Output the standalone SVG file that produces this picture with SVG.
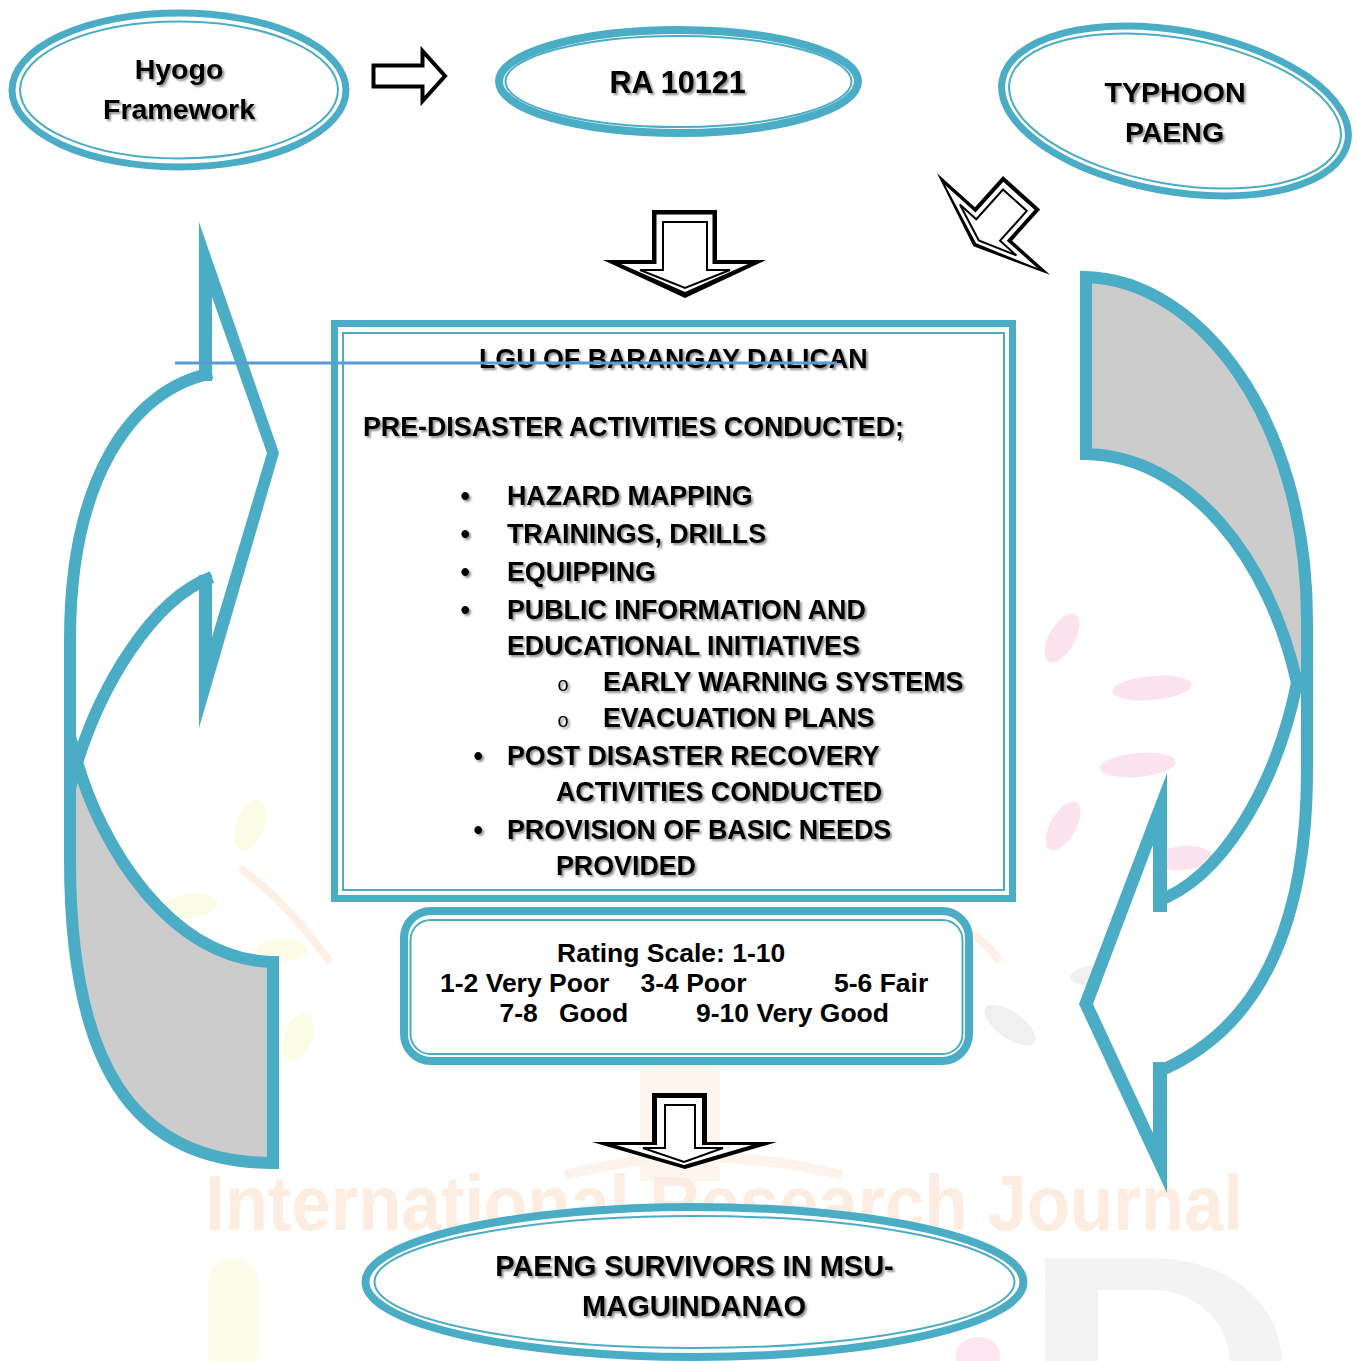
<svg xmlns="http://www.w3.org/2000/svg" width="1357" height="1361" viewBox="0 0 1357 1361">
<defs>
<style>
.t{font-family:"Liberation Sans",Arial,sans-serif;font-weight:bold;fill:#000}
.bx{font-size:26.8px}
.el{font-size:28.5px}
.rt{font-size:26.5px}
.band{fill:#fff;stroke:#4BACC6;stroke-width:7}
.thin{fill:none;stroke:#4BACC6;stroke-width:2}
.arl{fill:none;stroke:#4BACC6;stroke-width:12;stroke-linejoin:miter;stroke-miterlimit:10}
.blue{fill:#4BACC6}
.wh{fill:#fff}
.blk{fill:#000}
.thinblk{fill:#fff;stroke:#000;stroke-width:2}
.sub{font-family:"Liberation Sans",Arial,sans-serif;font-size:20px;fill:#000}
</style>
<filter id="sh" x="-5%" y="-30%" width="112%" height="170%">
<feGaussianBlur in="SourceAlpha" stdDeviation="1.3"/>
<feOffset dx="1.8" dy="2.2"/>
<feComponentTransfer><feFuncA type="linear" slope="0.45"/></feComponentTransfer>
<feMerge><feMergeNode/><feMergeNode in="SourceGraphic"/></feMerge>
</filter>
</defs>
<rect width="1357" height="1361" fill="#fff"/>

<g id="watermark">
<rect x="640" y="1066" width="80" height="115" fill="#FEF5EE"/>
<path d="M240,868 Q285,900 330,962" fill="none" stroke="#FEF0E6" stroke-width="8"/>
<path d="M960,925 Q985,940 1000,962" fill="none" stroke="#FEF0E6" stroke-width="8"/>
<path d="M565,1175 Q700,1140 842,1175" fill="none" stroke="#FEF3EA" stroke-width="10"/>
<ellipse cx="250" cy="825" rx="14" ry="27" transform="rotate(20 250 825)" fill="#FAFCE6"/>
<ellipse cx="190" cy="906" rx="28" ry="12" transform="rotate(-8 190 906)" fill="#FAFCE6"/>
<ellipse cx="282" cy="950" rx="26" ry="11" fill="#FAFCE6"/>
<ellipse cx="298" cy="1037" rx="14" ry="25" transform="rotate(20 298 1037)" fill="#FAFCE6"/>
<ellipse cx="1062" cy="638" rx="13" ry="27" transform="rotate(30 1062 638)" fill="#FDE3EE"/>
<ellipse cx="1152" cy="688" rx="40" ry="12" transform="rotate(-5 1152 688)" fill="#FDE3EE"/>
<ellipse cx="1138" cy="765" rx="38" ry="12" transform="rotate(-5 1138 765)" fill="#FDE3EE"/>
<ellipse cx="1063" cy="826" rx="13" ry="27" transform="rotate(30 1063 826)" fill="#FDE3EE"/>
<ellipse cx="1182" cy="858" rx="30" ry="12" transform="rotate(-5 1182 858)" fill="#FDE3EE"/>
<ellipse cx="1010" cy="1025" rx="30" ry="13" transform="rotate(35 1010 1025)" fill="#F0F0F0"/>
<ellipse cx="1100" cy="975" rx="30" ry="11" transform="rotate(-5 1100 975)" fill="#F0F0F0"/>
<text class="t" x="205" y="1230" font-size="78" textLength="1038" lengthAdjust="spacingAndGlyphs" style="fill:#FDEDE1">International Research Journal</text>
<rect x="208" y="1258" width="50" height="120" rx="25" fill="#FBFDE8"/>
<path d="M1045,1258 L1150,1258 C1225,1258 1280,1300 1282,1361 L1230,1361 C1228,1320 1195,1290 1150,1290 L1098,1290 L1098,1361 L1045,1361 Z" fill="#F3F3F3"/>
<ellipse cx="978" cy="1355" rx="22" ry="18" fill="#FDE6EF"/>
</g>

<g id="left-arrow">
<path class="wh" d="M212,373 C130,390 70,480 70,640 L70,790 L80,760 C100,690 150,600 212,577 Z"/>
<path class="arl" style="fill:#CCCCCC" d="M76,758 C100,845 170,960 273,962 L273,1163 C130,1163 70,1060 70,860 L70,790 Z"/>
<polygon class="blue" points="199,222 279,453 199,728"/>
<polygon class="wh" points="212,297 267,453 212,637 212,575 188,575 188,381 212,381"/>
<path class="arl" d="M212,373 C130,390 70,480 70,640 L70,800"/>
<path class="arl" d="M78,760 C100,690 150,600 212,577"/>
</g>

<g id="right-arrow">
<path class="wh" d="M1307,650 L1307,770 C1307,940 1250,1035 1155,1073 L1155,903 C1220,880 1275,790 1297,683 Z"/>
<path class="arl" style="fill:#CCCCCC" d="M1086,277 C1200,280 1307,420 1307,620 L1307,675 L1297,683 C1270,560 1190,456 1086,454 Z"/>
<polygon class="blue" points="1167,773 1079,1004 1167,1193"/>
<polygon class="wh" points="1153,845 1093,1004 1153,1133 1153,1062 1172,1062 1172,912 1153,912"/>
<path class="arl" d="M1307,650 L1307,770 C1307,940 1250,1035 1155,1073"/>
<path class="arl" d="M1297,683 C1275,790 1220,880 1155,902"/>
</g>

<g id="node-hyogo">
<ellipse class="band" cx="179" cy="90" rx="167" ry="77"/>
<ellipse class="thin" cx="179" cy="90" rx="159" ry="68.5"/>
<g filter="url(#sh)">
<text class="t el" x="179" y="79" text-anchor="middle">Hyogo</text>
<text class="t el" x="179" y="119" text-anchor="middle">Framework</text>
</g>
</g>

<g id="node-ra">
<ellipse class="band" cx="678.5" cy="81.5" rx="179.5" ry="51.5" style="stroke-width:8"/>
<ellipse class="thin" cx="678.5" cy="81.5" rx="173" ry="45.5"/>
<text class="t" x="677.5" y="93" text-anchor="middle" font-size="30.5" filter="url(#sh)">RA 10121</text>
</g>

<g id="node-typhoon">
<g transform="rotate(10 1175 111)">
<ellipse class="band" cx="1175" cy="111" rx="175.5" ry="80.5"/>
<ellipse class="thin" cx="1175" cy="111" rx="168" ry="73"/>
</g>
<g filter="url(#sh)">
<text class="t el" x="1175" y="102" text-anchor="middle">TYPHOON</text>
<text class="t el" x="1174.5" y="142" text-anchor="middle">PAENG</text>
</g>
</g>

<g id="node-lgu">
<rect x="334.5" y="323.5" width="678" height="575" fill="#fff" stroke="#4BACC6" stroke-width="7"/>
<rect class="thin" x="343" y="333" width="661" height="557"/>
<g filter="url(#sh)">
<text class="t bx" x="479" y="368">LGU OF BARANGAY DALICAN</text>
<text class="t bx" x="363" y="436">PRE-DISASTER ACTIVITIES CONDUCTED;</text>
<text class="t bx" x="460.5" y="505">•</text>
<text class="t bx" x="507" y="505">HAZARD MAPPING</text>
<text class="t bx" x="460.5" y="543">•</text>
<text class="t bx" x="507" y="543">TRAININGS, DRILLS</text>
<text class="t bx" x="460.5" y="581">•</text>
<text class="t bx" x="507" y="581">EQUIPPING</text>
<text class="t bx" x="460.5" y="619">•</text>
<text class="t bx" x="507" y="619">PUBLIC INFORMATION AND</text>
<text class="t bx" x="507" y="655">EDUCATIONAL INITIATIVES</text>
<text class="sub" x="557.5" y="691">o</text>
<text class="t bx" x="603" y="691">EARLY WARNING SYSTEMS</text>
<text class="sub" x="557.5" y="727">o</text>
<text class="t bx" x="603" y="727">EVACUATION PLANS</text>
<text class="t bx" x="473.5" y="765">•</text>
<text class="t bx" x="507" y="765">POST DISASTER RECOVERY</text>
<text class="t bx" x="556" y="801">ACTIVITIES CONDUCTED</text>
<text class="t bx" x="473.5" y="839">•</text>
<text class="t bx" x="507" y="839">PROVISION OF BASIC NEEDS</text>
<text class="t bx" x="556" y="875">PROVIDED</text>
</g>
</g>

<g id="node-rating">
<rect x="404" y="911" width="565" height="150" rx="27" fill="#fff" stroke="#4BACC6" stroke-width="8"/>
<rect class="thin" x="410.5" y="920" width="552" height="134" rx="20"/>
<text class="t rt" x="557" y="961.5">Rating Scale: 1-10</text>
<text class="t rt" x="440" y="991.5">1-2 Very Poor</text>
<text class="t rt" x="640.5" y="991.5">3-4 Poor</text>
<text class="t rt" x="834" y="991.5">5-6 Fair</text>
<text class="t rt" x="499.5" y="1021.5">7-8</text>
<text class="t rt" x="559" y="1021.5">Good</text>
<text class="t rt" x="696" y="1021.5">9-10 Very Good</text>
</g>

<g id="node-survivors">
<ellipse class="band" cx="694.5" cy="1282" rx="329" ry="75" style="stroke-width:8"/>
<ellipse class="thin" cx="694.5" cy="1282" rx="320" ry="66"/>
<g filter="url(#sh)">
<text class="t" x="694.5" y="1276" text-anchor="middle" font-size="29">PAENG SURVIVORS IN MSU-</text>
<text class="t" x="694" y="1316" text-anchor="middle" font-size="29">MAGUINDANAO</text>
</g>
</g>

<g id="connectors">
<polygon points="373.5,65.5 422.5,65.5 422.5,51 445,76 422.5,101 422.5,86.5 373.5,86.5" fill="#fff" stroke="#000" stroke-width="4" stroke-linejoin="miter"/>
<g id="arrow-down-top">
<polygon class="blk" points="652,210 717,210 717,260 766,260 685,298 603,260 652,260"/>
<polygon class="wh" points="656.5,214.5 712.5,214.5 712.5,264 748,264 685,292 621,264 656.5,264"/>
<polygon class="thinblk" points="663,222 707,222 707,270 730,270 685,288 640,270 663,270"/>
</g>
<g id="arrow-diagonal" transform="translate(993.5 224) rotate(42)">
<polygon class="blk" points="-25,-42 25,-42 25,0 76,0 0,30 -76,0 -25,0"/>
<polygon class="wh" points="-21,-38 21,-38 21,3.5 62,3.5 0,26 -62,3.5 -21,3.5"/>
<polygon class="thinblk" points="-16,-32 16,-32 16,8 38,8 0,22 -38,8 -16,8"/>
</g>
<g id="arrow-down-bottom">
<polygon class="blk" points="652,1093 707,1093 707,1142 777,1142 685,1169 592,1142 652,1142"/>
<polygon class="wh" points="657,1098 702,1098 702,1145 752,1145 684,1165 616,1145 657,1145"/>
<polygon class="thinblk" points="665,1105 695,1105 695,1148 723,1148 684,1162 643,1148 665,1148"/>
</g>
</g>

<line x1="175" y1="363" x2="837" y2="363" stroke="#5B9BD5" stroke-width="3"/>
</svg>
